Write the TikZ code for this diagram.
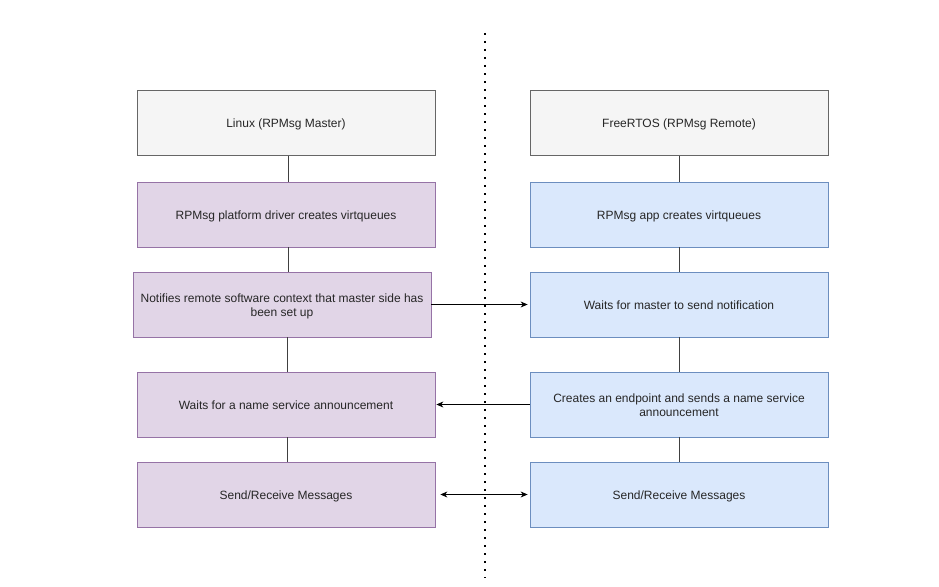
\documentclass[tikz,border=0pt]{standalone}
\usepackage{fontspec}
\setmainfont{Liberation Sans}
\usetikzlibrary{arrows.meta}
\definecolor{grayfill}{HTML}{F5F5F5}
\definecolor{grayline}{HTML}{666666}
\definecolor{purfill}{HTML}{E1D5E7}
\definecolor{purline}{HTML}{9673A6}
\definecolor{bluefill}{HTML}{DAE8FC}
\definecolor{blueline}{HTML}{6C8EBF}
\newcommand{\boxtxt}[1]{\raisebox{0pt}[\height][\dimexpr\depth-4pt\relax]{\begin{tabular}{@{}c@{}}#1\end{tabular}}}
\begin{document}
\begin{tikzpicture}[x=1pt,y=-1pt,
  box/.style={draw, line width=0.8pt, minimum width=298pt, minimum height=65pt, inner sep=0pt, font=\fontsize{12}{14}\selectfont, text=black!85},
  hdr/.style={box, fill=grayfill, draw=grayline},
  pur/.style={box, fill=purfill, draw=purline},
  blu/.style={box, fill=bluefill, draw=blueline},
  link/.style={draw=black!75, line width=0.8pt},
  arr/.style={draw=black, line width=0.8pt, -{Stealth[length=7pt,width=6pt]}},
]
\useasboundingbox (0,0) rectangle (939,586);
% dotted separator
\coordinate (dtop) at (485,33);
\coordinate (dbot) at (485,578);
\draw[line width=1.6pt, dash pattern=on 1.6pt off 6.4pt] (dtop) -- (dbot);
% left column
\node[hdr] (l1) at (286,123) {\boxtxt{Linux (RPMsg Master)}};
\node[pur] (l2) at (286,214.5) {\boxtxt{RPMsg platform driver creates virtqueues}};
\node[pur] (l3) at (282,304.5) {\boxtxt{Notifies remote software context that master side has\\been set up}};
\node[pur] (l4) at (286,404.5) {\boxtxt{Waits for a name service announcement}};
\node[pur] (l5) at (286,494.5) {\boxtxt{Send/Receive Messages}};
% right column
\node[hdr] (r1) at (679,123) {\boxtxt{FreeRTOS (RPMsg Remote)}};
\node[blu] (r2) at (679,214.5) {\boxtxt{RPMsg app creates virtqueues}};
\node[blu] (r3) at (679,304.5) {\boxtxt{Waits for master to send notification}};
\node[blu] (r4) at (679,404.5) {\boxtxt{Creates an endpoint and sends a name service\\announcement}};
\node[blu] (r5) at (679,494.5) {\boxtxt{Send/Receive Messages}};
% vertical links
\draw[link] (l1.south -| 288,0) -- (l2.north -| 288,0);
\draw[link] (l2.south -| 288,0) -- (l3.north -| 288,0);
\draw[link] (l3.south -| 287,0) -- (l4.north -| 287,0);
\draw[link] (l4.south -| 287,0) -- (l5.north -| 287,0);
\draw[link] (r1) -- (r2);
\draw[link] (r2) -- (r3);
\draw[link] (r3) -- (r4);
\draw[link] (r4) -- (r5);
% horizontal arrows
\draw[arr] (l3.east) -- ([xshift=-2pt]r3.west);
\draw[arr] (r4.west) -- ([xshift=1pt]l4.east);
\draw[draw=black, line width=0.8pt, {Stealth[length=7pt,width=6pt]}-{Stealth[length=7pt,width=6pt]}] ([xshift=5pt]l5.east) -- ([xshift=-2pt]r5.west);
\end{tikzpicture}
\end{document}
